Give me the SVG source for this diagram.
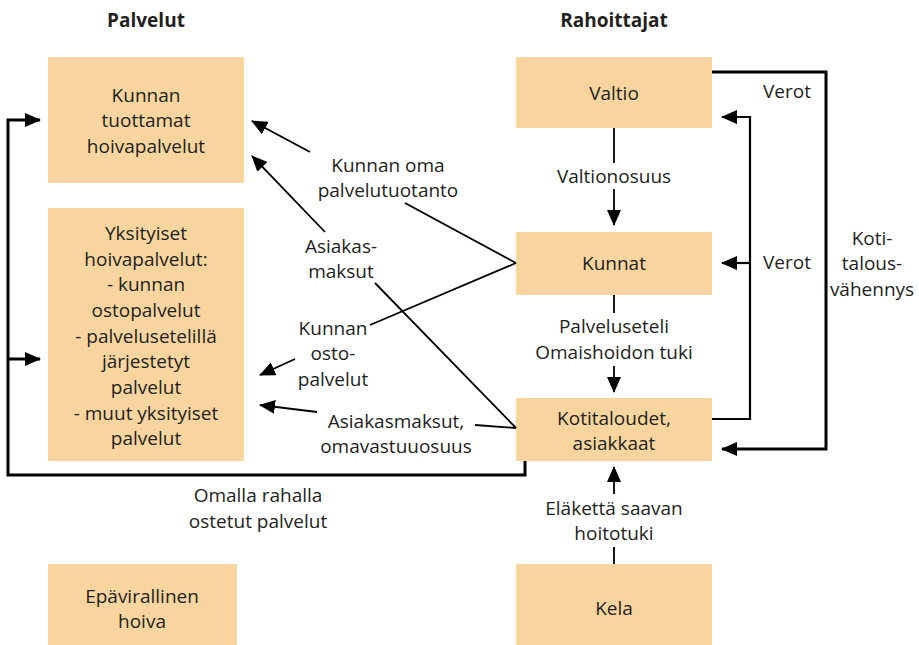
<svg xmlns="http://www.w3.org/2000/svg" width="919" height="645" viewBox="0 0 919 645">
<style>
  .box { fill: #F8D59E; }
  text { font-family: "Open Sans", "Liberation Sans", sans-serif; font-size: 19px; fill: #231F20; text-anchor: middle; }
  .hdr { font-weight: bold; font-size: 19px; }
  .c { fill: none; stroke: #000; stroke-width: 1.8; }
  .thick { stroke-width: 3; }
  .mid { stroke-width: 2.2; }
</style>
<defs>
  <marker id="ah" viewBox="0 0 16 14" refX="15" refY="7" markerWidth="16" markerHeight="14" markerUnits="userSpaceOnUse" orient="auto">
    <path d="M0,0 L16,7 L0,14 z" fill="#000"/>
  </marker>
</defs>
<rect width="919" height="645" fill="#fff"/>

<text class="hdr" x="146" y="27">Palvelut</text>
<text class="hdr" x="614" y="27">Rahoittajat</text>

<g id="kunnan-tuottamat">
  <rect class="box" x="48" y="57" width="196" height="126"/>
  <text x="146" y="102">Kunnan</text>
  <text x="146" y="127">tuottamat</text>
  <text x="146" y="153">hoivapalvelut</text>
</g>
<g id="yksityiset">
  <rect class="box" x="48" y="208" width="196" height="253"/>
  <text x="146" y="240">Yksityiset</text>
  <text x="146" y="266">hoivapalvelut:</text>
  <text x="146" y="291">- kunnan</text>
  <text x="146" y="317">ostopalvelut</text>
  <text x="146" y="343">- palvelusetelillä</text>
  <text x="146" y="368">järjestetyt</text>
  <text x="146" y="394">palvelut</text>
  <text x="146" y="420">- muut yksityiset</text>
  <text x="146" y="445">palvelut</text>
</g>
<g id="epavirallinen">
  <rect class="box" x="48" y="564" width="189" height="81"/>
  <text x="142" y="603">Epävirallinen</text>
  <text x="142" y="628">hoiva</text>
</g>
<g id="valtio">
  <rect class="box" x="516" y="57" width="196" height="71"/>
  <text x="614" y="100">Valtio</text>
</g>
<g id="kunnat">
  <rect class="box" x="516" y="232" width="196" height="63"/>
  <text x="614" y="270">Kunnat</text>
</g>
<g id="kotitaloudet">
  <rect class="box" x="516" y="398" width="196" height="63"/>
  <text x="614" y="425">Kotitaloudet,</text>
  <text x="614" y="450">asiakkaat</text>
</g>
<g id="kela">
  <rect class="box" x="516" y="564" width="196" height="81"/>
  <text x="614" y="615">Kela</text>
</g>

<g id="connectors">
  <line class="c" x1="614" y1="128" x2="614" y2="163"/>
  <line class="c" x1="614" y1="189" x2="614" y2="225" marker-end="url(#ah)"/>
  <line class="c" x1="614" y1="295" x2="614" y2="313"/>
  <line class="c" x1="614" y1="366" x2="614" y2="392" marker-end="url(#ah)"/>
  <line class="c" x1="614" y1="564" x2="614" y2="547"/>
  <line class="c" x1="614" y1="494" x2="614" y2="467" marker-end="url(#ah)"/>

  <polyline class="c mid" points="712,419 750,419 750,117 722,117" marker-end="url(#ah)"/>
  <line class="c mid" x1="750" y1="263" x2="722" y2="263" marker-end="url(#ah)"/>
  <polyline class="c thick" points="712,72 826,72 826,449 722,449" marker-end="url(#ah)"/>

  <polyline class="c thick" points="525,461 525,475 8,475 8,120 40,120" marker-end="url(#ah)"/>
  <line class="c thick" x1="8" y1="359" x2="40" y2="359" marker-end="url(#ah)"/>

  <line class="c" x1="516" y1="263" x2="405" y2="203"/>
  <line class="c" x1="310" y1="152" x2="252" y2="121" marker-end="url(#ah)"/>
  <line class="c" x1="516" y1="428" x2="375" y2="283"/>
  <line class="c" x1="325" y1="232" x2="252" y2="156" marker-end="url(#ah)"/>
  <line class="c" x1="516" y1="263" x2="370" y2="325"/>
  <line class="c" x1="295" y1="359" x2="260" y2="375" marker-end="url(#ah)"/>
  <line class="c" x1="516" y1="428" x2="475" y2="425"/>
  <line class="c" x1="317" y1="412" x2="260" y2="405" marker-end="url(#ah)"/>

  <text x="614" y="183">Valtionosuus</text>
  <text x="614" y="333">Palveluseteli</text>
  <text x="614" y="359">Omaishoidon tuki</text>
  <text x="614" y="515">Eläkettä saavan</text>
  <text x="614" y="540">hoitotuki</text>
  <text x="787" y="98">Verot</text>
  <text x="787" y="269">Verot</text>
  <text x="872" y="245">Koti-</text>
  <text x="872" y="270">talous-</text>
  <text x="872" y="296">vähennys</text>
  <text x="388" y="172">Kunnan oma</text>
  <text x="388" y="197">palvelutuotanto</text>
  <text x="341" y="253">Asiakas-</text>
  <text x="341" y="278">maksut</text>
  <text x="333" y="335">Kunnan</text>
  <text x="333" y="360">osto-</text>
  <text x="333" y="386">palvelut</text>
  <text x="396" y="428">Asiakasmaksut,</text>
  <text x="396" y="453">omavastuuosuus</text>
  <text x="258" y="502">Omalla rahalla</text>
  <text x="258" y="528">ostetut palvelut</text>
</g>
</svg>
